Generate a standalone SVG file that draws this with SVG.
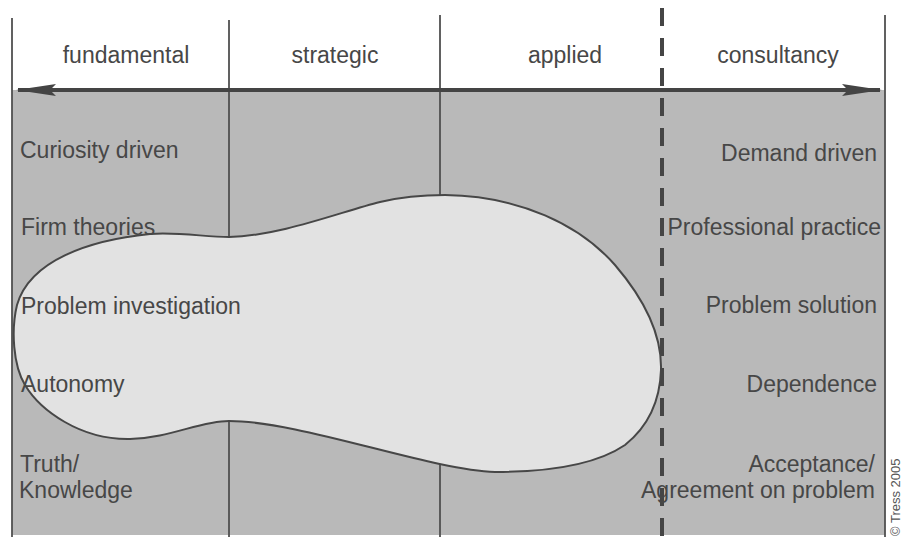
<svg xmlns="http://www.w3.org/2000/svg" width="902" height="540" viewBox="0 0 902 540">
  <defs>
    <style>
      .t { font-family: "Liberation Sans", Arial, sans-serif; font-size: 23px; fill: #474747; }
      .h { text-anchor: middle; }
      .r { text-anchor: end; }
      .v { stroke: #505050; stroke-width: 1.8; fill: none; }
    </style>
    <marker id="ah" viewBox="0 0 40 12" refX="38" refY="6" markerWidth="40" markerHeight="12" markerUnits="userSpaceOnUse" orient="auto-start-reverse">
      <path d="M0 0 L40 6 L0 12 L6 6 Z" fill="#444"/>
    </marker>
  </defs>
  <rect width="902" height="540" fill="#ffffff"/>
  <g id="background">
    <rect x="12" y="90" width="873" height="445" fill="#b9b9b9"/>
    <line class="v" x1="12" y1="18" x2="12" y2="537"/>
    <line class="v" x1="229" y1="20" x2="229" y2="537"/>
    <line class="v" x1="440" y1="15" x2="440" y2="537"/>
    <line class="v" x1="885" y1="15" x2="885" y2="537"/>
  </g>
  <g id="blob">
    <path d="M229 237 C280 236 340 212 380 202 C405 196 425 195 445 195 C520 196 580 225 615 265 C645 300 662 335 661 370 C660 400 650 425 625 445 C600 462 560 472 495 472 C430 470 300 421 229 421 C200 421 170 438 130 439 C80 440 40 410 25 385 C13 365 11 330 17 305 C30 260 90 240 150 234 C180 232 205 237 229 237 Z" fill="#e2e2e2" stroke="#474747" stroke-width="2"/>
  </g>
  <g id="connectors">
    <line x1="662" y1="8" x2="662" y2="537" stroke="#454545" stroke-width="4" stroke-dasharray="18 12"/>
    <line x1="18" y1="90" x2="880" y2="90" stroke="#444" stroke-width="4" marker-start="url(#ah)" marker-end="url(#ah)"/>
  </g>
  <g id="headers">
    <text class="t h" x="126" y="63">fundamental</text>
    <text class="t h" x="335" y="63">strategic</text>
    <text class="t h" x="565" y="63">applied</text>
    <text class="t h" x="778" y="63">consultancy</text>
  </g>
  <g id="left-labels">
    <text class="t" x="20" y="158">Curiosity driven</text>
    <text class="t" x="21" y="235">Firm theories</text>
    <text class="t" x="21" y="314">Problem investigation</text>
    <text class="t" x="21" y="392">Autonomy</text>
    <text class="t" x="20" y="472">Truth/</text>
    <text class="t" x="19" y="498">Knowledge</text>
  </g>
  <g id="right-labels">
    <text class="t r" x="877" y="161">Demand driven</text>
    <text class="t r" x="881" y="235">Professional practice</text>
    <text class="t r" x="877" y="313">Problem solution</text>
    <text class="t r" x="877" y="392">Dependence</text>
    <text class="t r" x="875" y="472">Acceptance/</text>
    <text class="t r" x="875" y="498">Agreement on problem</text>
  </g>
  <text x="900" y="536" transform="rotate(-90 900 536)" font-family="Liberation Sans, Arial, sans-serif" font-size="13" fill="#555">© Tress 2005</text>
</svg>
